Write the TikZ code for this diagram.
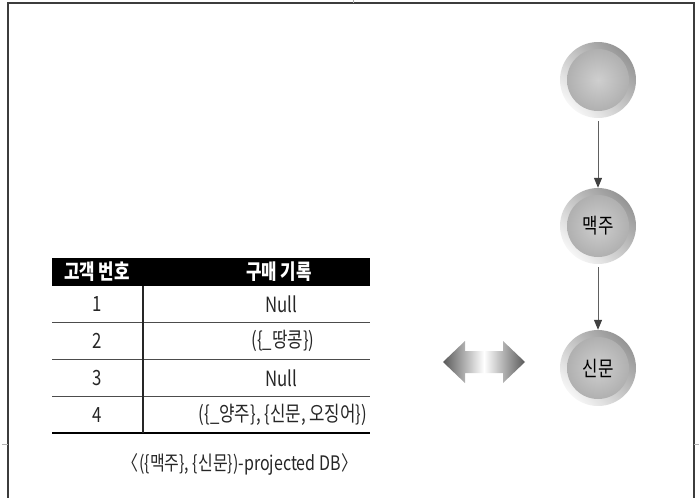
\documentclass[tikz,border=0pt]{standalone}
\usepackage{fontspec}
\setmainfont[FakeStretch=0.8]{Noto Sans CJK KR}
\usetikzlibrary{arrows.meta}
\definecolor{framec}{HTML}{3C3C3C}
\tikzset{
  hdr/.style={text=white, font=\fontsize{21}{24}\selectfont\bfseries, inner sep=0pt},
  cell/.style={text=black!85, font=\fontsize{21}{24}\selectfont, inner sep=0pt},
  rowline/.style={draw=black!70, line width=0.9pt},
  ball/.style={circle, minimum size=76pt, inner sep=0pt, font=\fontsize{21}{24}\selectfont,
    path picture={
      \shade[left color=gray!85, right color=gray!5, shading angle=-45]
        ([xshift=-2pt,yshift=-2pt]path picture bounding box.south west) rectangle ([xshift=2pt,yshift=2pt]path picture bounding box.north east);
      \shade[inner color=gray!38, outer color=gray!62] (path picture bounding box.center) circle (31pt);
    }},
  conn/.style={draw=gray!75!black, line width=1pt, shorten <=3pt,
    -{Triangle[length=10pt,width=8pt,color=black!75]}}
}
\begin{document}
\begin{tikzpicture}[x=1pt,y=-1pt]
\useasboundingbox (0,0) rectangle (699,498);
% frame and marks
\draw[framec, line width=1.3pt] (8,500) -- (8,3) -- (694,3) -- (694,500);
\draw[gray!60, line width=0.6pt] (353,0) -- (353,3);
\draw[gray!60, line width=0.6pt] (2,444) -- (8,444);
\draw[gray!60, line width=0.6pt] (694,444) -- (699,444);
% table
\fill[black] (52,258) rectangle (370,286);
\node[hdr] (h1) at (97,272) {고객 번호};
\node[hdr] (h2) at (279,272) {구매 기록};
\draw[rowline] (52,322) -- (370,322);
\draw[rowline] (52,359) -- (370,359);
\draw[rowline] (52,396) -- (370,396);
\draw[black, line width=2.8pt] (52,433) -- (370,433);
\draw[black!85, line width=1.2pt] (143,286) -- (143,433);
\node[cell] (n1) at (97,304) {1};
\node[cell] (v1) at (281,304) {Null};
\node[cell] (n2) at (97,341) {2};
\node[cell] (v2) at (283,341) {(\{\_땅콩\})};
\node[cell] (n3) at (97,378) {3};
\node[cell] (v3) at (281,378) {Null};
\node[cell] (n4) at (97,415) {4};
\node[cell] (v4) at (283,415) {(\{\_양주\}, \{신문, 오징어\})};
\node[cell, font=\fontsize{20}{23}\selectfont] (cap) at (240,464) {\kern-0.5em〈\kern0.02em(\{맥주\}, \{신문\})-projected DB\kern0.02em〉\kern-0.5em};
% circles
\node[ball] (c1) at (598,80) {};
\node[ball] (c2) at (598,226) {맥주};
\node[ball] (c3) at (598,368) {신문};
\draw[conn] (c1) -- (c2);
\draw[conn] (c2) -- (c3);
% double arrow
\shade[left color=gray!70!black, right color=gray!70!black, middle color=white]
  (443,362) -- (465,341) -- (465,351) -- (503,351) -- (503,341) -- (525,362)
  -- (503,383) -- (503,373) -- (465,373) -- (465,383) -- cycle;
\end{tikzpicture}
\end{document}
